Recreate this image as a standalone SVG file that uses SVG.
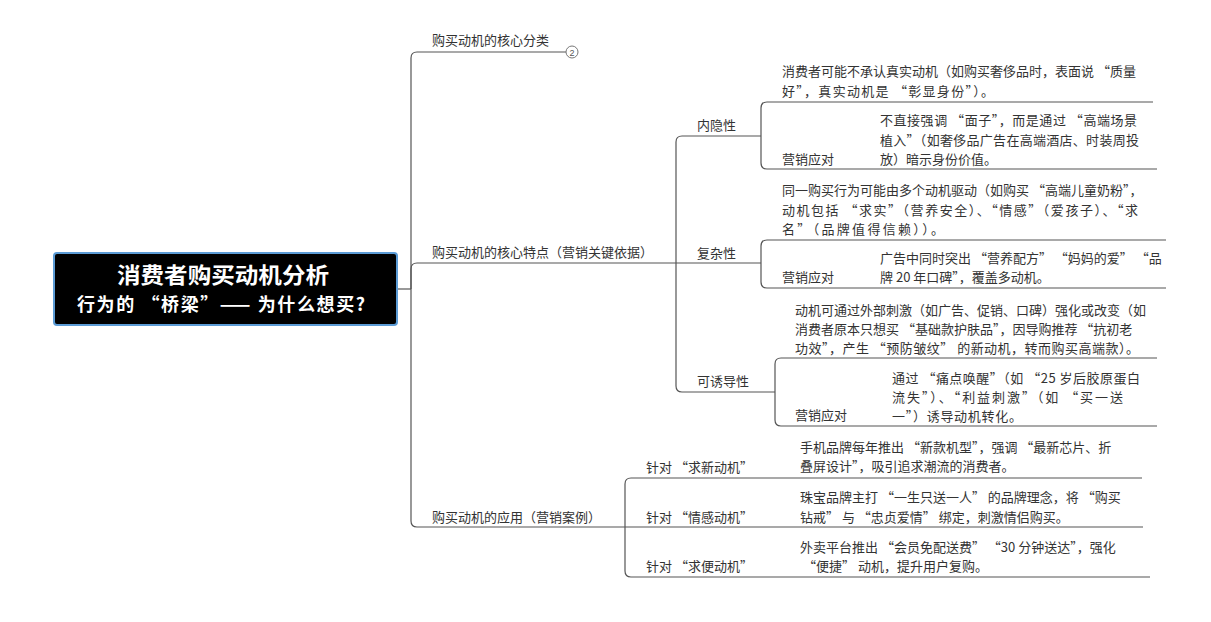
<svg xmlns="http://www.w3.org/2000/svg" width="1211" height="622" viewBox="0 0 1211 622">
<style>
.t{font-family:"Noto Sans CJK SC","Liberation Sans",sans-serif;font-size:13px;fill:#333}
.c{fill:none;stroke:#555;stroke-width:1.2}
.rt{font-family:"Noto Sans CJK SC","Liberation Sans",sans-serif;font-weight:bold;fill:#fff;text-anchor:middle}
</style>
<rect width="1211" height="622" fill="#fff"/>
<g id="connectors">
<path class="c" d="M397,289 H411"/>
<path class="c" d="M411,289 V58 Q411,52 417,52 H566"/>
<path class="c" d="M411,289 V269 Q411,263 417,263 H761"/>
<path class="c" d="M411,289 V521 Q411,527 417,527 H625"/>
<path class="c" d="M676,263 V142 Q676,136 682,136 H761"/>
<path class="c" d="M676,263 V386 Q676,392 682,392 H775"/>
<path class="c" d="M761,136 V108 Q761,102 767,102 H1153"/>
<path class="c" d="M761,136 V163 Q761,169 767,169 H1157"/>
<path class="c" d="M761,263 V246 Q761,240 767,240 H1166"/>
<path class="c" d="M761,263 V282 Q761,288 767,288 H1166"/>
<path class="c" d="M775,392 V364 Q775,358 781,358 H1157"/>
<path class="c" d="M775,392 V420 Q775,426 781,426 H1157"/>
<path class="c" d="M625,527 V484 Q625,478 631,478 H1142"/>
<path class="c" d="M625,527 H1143"/>
<path class="c" d="M625,527 V571 Q625,577 631,577 H1150"/>
</g>
<g id="root">
<rect x="54" y="253" width="343" height="72" rx="3" fill="#000" stroke="#5b9bd5" stroke-width="2"/>
<text class="rt" x="223" y="283" font-size="22" textLength="212" lengthAdjust="spacingAndGlyphs">消费者购买动机分析</text>
<text class="rt" x="221" y="311" font-size="18" textLength="288" lengthAdjust="spacing">行为的 “桥梁”—— 为什么想买?</text>
</g>
<g id="b1">
<text class="t" x="432" y="45">购买动机的核心分类</text>
<circle cx="572" cy="52" r="6" fill="#fff" stroke="#777" stroke-width="1"/>
<text x="572" y="55.5" font-family="Liberation Sans,sans-serif" font-size="9" fill="#555" text-anchor="middle">2</text>
</g>
<g id="b2">
<text class="t" x="432" y="257">购买动机的核心特点（营销关键依据）</text>
</g>
<g id="n-neiyin">
<text class="t" x="697" y="130">内隐性</text>
</g>
<g id="n-neiyin-desc">
<text class="t" x="782" y="76">消费者可能不承认真实动机（如购买奢侈品时，表面说 “质量</text>
<text class="t" x="782" y="96" textLength="212" lengthAdjust="spacing">好”，真实动机是 “彰显身份”）。</text>
</g>
<g id="n-neiyin-yx">
<text class="t" x="782" y="164">营销应对</text>
<text class="t" x="880" y="125" textLength="257" lengthAdjust="spacing">不直接强调 “面子”，而是通过 “高端场景</text>
<text class="t" x="880" y="145" textLength="259" lengthAdjust="spacing">植入”（如奢侈品广告在高端酒店、时装周投</text>
<text class="t" x="880" y="164">放）暗示身份价值。</text>
</g>
<g id="n-fuza">
<text class="t" x="697" y="258">复杂性</text>
</g>
<g id="n-fuza-desc">
<text class="t" x="782" y="195">同一购买行为可能由多个动机驱动（如购买 “高端儿童奶粉”，</text>
<text class="t" x="782" y="215" textLength="356" lengthAdjust="spacing">动机包括 “求实”（营养安全）、“情感”（爱孩子）、“求</text>
<text class="t" x="782" y="234" textLength="162" lengthAdjust="spacing">名”（品牌值得信赖））。</text>
</g>
<g id="n-fuza-yx">
<text class="t" x="782" y="282">营销应对</text>
<text class="t" x="880" y="263">广告中同时突出 “营养配方” “妈妈的爱” “品</text>
<text class="t" x="880" y="282">牌 20 年口碑”，覆盖多动机。</text>
</g>
<g id="n-youdao">
<text class="t" x="697" y="386">可诱导性</text>
</g>
<g id="n-youdao-desc">
<text class="t" x="795" y="315">动机可通过外部刺激（如广告、促销、口碑）强化或改变（如</text>
<text class="t" x="795" y="334">消费者原本只想买 “基础款护肤品”，因导购推荐 “抗初老</text>
<text class="t" x="795" y="353" textLength="344" lengthAdjust="spacing">功效”，产生 “预防皱纹” 的新动机，转而购买高端款）。</text>
</g>
<g id="n-youdao-yx">
<text class="t" x="795" y="420">营销应对</text>
<text class="t" x="892" y="383" textLength="248" lengthAdjust="spacing">通过 “痛点唤醒”（如 “25 岁后胶原蛋白</text>
<text class="t" x="892" y="402" textLength="231" lengthAdjust="spacing">流失”）、“利益刺激”（如 “买一送</text>
<text class="t" x="892" y="421" textLength="130" lengthAdjust="spacing">一”）诱导动机转化。</text>
</g>
<g id="b3">
<text class="t" x="432" y="522">购买动机的应用（营销案例）</text>
</g>
<g id="n-qiuxin">
<text class="t" x="646" y="472">针对 “求新动机”</text>
<text class="t" x="800" y="452">手机品牌每年推出 “新款机型”，强调 “最新芯片、折</text>
<text class="t" x="800" y="471">叠屏设计”，吸引追求潮流的消费者。</text>
</g>
<g id="n-qinggan">
<text class="t" x="646" y="522">针对 “情感动机”</text>
<text class="t" x="800" y="502">珠宝品牌主打 “一生只送一人” 的品牌理念，将 “购买</text>
<text class="t" x="800" y="522">钻戒” 与 “忠贞爱情” 绑定，刺激情侣购买。</text>
</g>
<g id="n-qiubian">
<text class="t" x="646" y="571">针对 “求便动机”</text>
<text class="t" x="800" y="552">外卖平台推出 “会员免配送费” “30 分钟送达”，强化</text>
<text class="t" x="803" y="571">“便捷” 动机，提升用户复购。</text>
</g>
</svg>
